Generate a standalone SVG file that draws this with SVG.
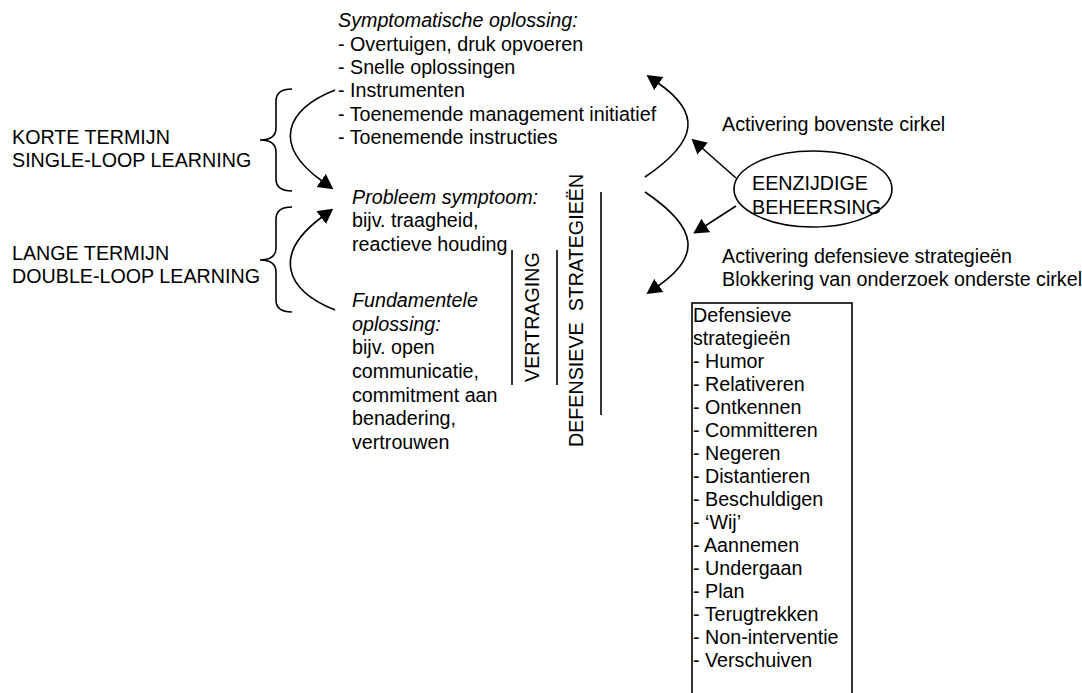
<svg xmlns="http://www.w3.org/2000/svg" width="1082" height="693" viewBox="0 0 1082 693">
<style>
text{font-family:"Liberation Sans",Arial,sans-serif;font-size:19.7px;fill:#000}
.it{font-style:italic}
.ln{fill:none;stroke:#000;stroke-width:1.6}
.pre{white-space:pre}
</style>
<defs>
<marker id="ah" viewBox="0 0 15 16" markerWidth="15" markerHeight="16" refX="1" refY="8" orient="auto" markerUnits="userSpaceOnUse">
<path d="M0,0 L15,8 L0,16 z" fill="#000"/>
</marker>
</defs>
<rect width="1082" height="693" fill="#fff"/>

<g id="symptomatic">
<text x="338" y="27" class="it">Symptomatische oplossing:</text>
<text x="338" y="50.5">- Overtuigen, druk opvoeren</text>
<text x="338" y="74">- Snelle oplossingen</text>
<text x="338" y="97">- Instrumenten</text>
<text x="338" y="120.5">- Toenemende management initiatief</text>
<text x="338" y="144">- Toenemende instructies</text>
</g>

<g id="korte">
<path class="ln" d="M292,89 Q276,89 276,101 L276,128 Q276,140 260,140 Q276,140 276,152 L276,179 Q276,191 292,191"/>
<text x="12" y="144">KORTE TERMIJN</text>
<text x="12" y="167">SINGLE-LOOP LEARNING</text>
</g>

<g id="lange">
<path class="ln" d="M292,207 Q276,207 276,219 L276,248 Q276,260 260,260 Q276,260 276,272 L276,300 Q276,312 292,312"/>
<text x="12" y="260">LANGE TERMIJN</text>
<text x="12" y="283">DOUBLE-LOOP LEARNING</text>
</g>

<g id="probleem">
<text x="352" y="204" class="it">Probleem symptoom:</text>
<text x="352" y="227">bijv. traagheid,</text>
<text x="352" y="251">reactieve houding</text>
</g>

<g id="fundamenteel">
<text x="352" y="307" class="it">Fundamentele</text>
<text x="352" y="331" class="it">oplossing:</text>
<text x="352" y="354">bijv. open</text>
<text x="352" y="378">communicatie,</text>
<text x="352" y="402">commitment aan</text>
<text x="352" y="425">benadering,</text>
<text x="352" y="449">vertrouwen</text>
</g>

<g id="vertraging">
<line class="ln" x1="512" y1="250" x2="512" y2="385"/>
<line class="ln" x1="557" y1="250" x2="557" y2="385"/>
<text transform="translate(539,382) rotate(-90)">VERTRAGING</text>
</g>

<g id="defensieve-strategieen">
<line class="ln" x1="601" y1="192" x2="601" y2="415"/>
<text class="pre" transform="translate(583,447) rotate(-90)">DEFENSIEVE  STRATEGIEËN</text>
</g>

<g id="eenzijdige">
<ellipse class="ln" cx="813" cy="189" rx="79" ry="38"/>
<text x="752" y="190">EENZIJDIGE</text>
<text x="752" y="214">BEHEERSING</text>
</g>

<g id="labels-right">
<text x="722" y="131">Activering bovenste cirkel</text>
<text x="722" y="263">Activering defensieve strategieën</text>
<text x="722" y="286">Blokkering van onderzoek onderste cirkel</text>
</g>

<g id="strategie-lijst">
<rect class="ln" x="692" y="303" width="160" height="410" fill="#fff"/>
<text x="693" y="321.5">Defensieve</text>
<text x="693" y="344.5">strategieën</text>
<text x="693" y="367.5">- Humor</text>
<text x="693" y="390.5">- Relativeren</text>
<text x="693" y="413.5">- Ontkennen</text>
<text x="693" y="436.5">- Committeren</text>
<text x="693" y="459.5">- Negeren</text>
<text x="693" y="482.5">- Distantieren</text>
<text x="693" y="505.5">- Beschuldigen</text>
<text x="693" y="528.5">- ‘Wij’</text>
<text x="693" y="551.5">- Aannemen</text>
<text x="693" y="574.5">- Undergaan</text>
<text x="693" y="597.5">- Plan</text>
<text x="693" y="620.5">- Terugtrekken</text>
<text x="693" y="643.5">- Non-interventie</text>
<text x="693" y="666.5">- Verschuiven</text>
</g>

<g id="connectors">
<path class="ln" d="M335,90 C285,110 272,145 322,181" marker-end="url(#ah)"/>
<path class="ln" d="M335,310 C285,290 272,254 322,217" marker-end="url(#ah)"/>
<path class="ln" d="M645,177 C700,140 700,112 658,83" marker-end="url(#ah)"/>
<path class="ln" d="M645,192 C700,229 700,257 658,286" marker-end="url(#ah)"/>
<path class="ln" d="M736,178 L702,148" marker-end="url(#ah)"/>
<path class="ln" d="M736,206 L705,226" marker-end="url(#ah)"/>
</g>
</svg>
